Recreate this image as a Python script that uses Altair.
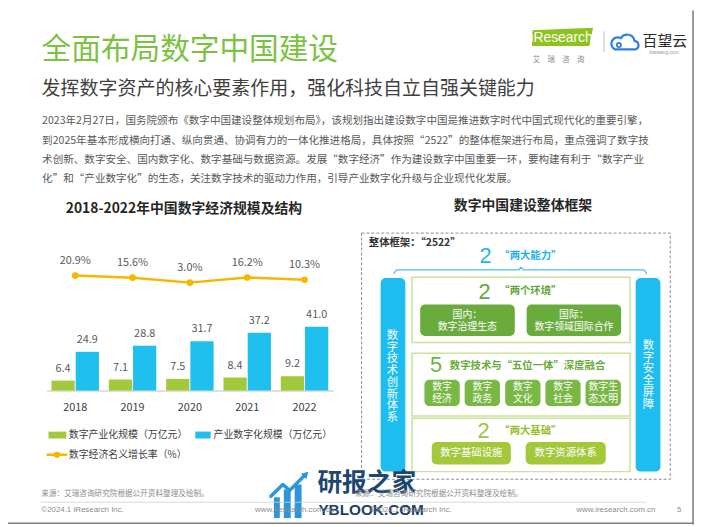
import altair as alt
import pandas as pd

# ---------------- data ----------------
years = ["2018", "2019", "2020", "2021", "2022"]
digital_industrialization = [6.4, 7.1, 7.5, 8.4, 9.2]        # 数字产业化规模（万亿元）
industrial_digitalization = [24.9, 28.8, 31.7, 37.2, 41.0]    # 产业数字化规模（万亿元）
growth_rate = [20.9, 15.6, 3.0, 16.2, 10.3]                  # 数字经济名义增长率（%）
series_names = ["数字产业化规模（万亿元）", "产业数字化规模（万亿元）"]
growth_name = "数字经济名义增长率（%）"

page_title = "全面布局数字中国建设"
page_subtitle = "发挥数字资产的核心要素作用，强化科技自立自强关键能力"
paragraph = [
    "2023年2月27日，国务院颁布《数字中国建设整体规划布局》，该规划指出建设数字中国是推进数字时代中国式现代化的重要引擎，",
    "到2025年基本形成横向打通、纵向贯通、协调有力的一体化推进格局，具体按照“2522”的整体框架进行布局，重点强调了数字技",
    "术创新、数字安全、国内数字化、数字基础与数据资源。发展“数字经济”作为建设数字中国重要一环，要构建有利于“数字产业",
    "化”和“产业数字化”的生态，关注数字技术的驱动力作用，引导产业数字化升级与企业现代化发展。",
]
chart_title = "2018-2022年中国数字经济规模及结构"
framework_title = "数字中国建设整体框架"
five_items = ["数字\n经济", "数字\n政务", "数字\n文化", "数字\n社会", "数字生\n态文明"]
source_text = "来源：艾瑞咨询研究院根据公开资料整理及绘制。"

# ---------------- styles ----------------
CJK = "Noto Sans CJK SC"
LAT = "Liberation Sans"
GREEN = "#a2c83b"
BLUE = "#1fbfee"
ORANGE = "#f7b600"
TXT = "#595959"

PX = alt.Scale(domain=[8, 702], range=[0, 694], nice=False, zero=False)
PY = alt.Scale(domain=[8, 527], range=[0, 519], nice=False, zero=False)
X = alt.X("x:Q", scale=PX, axis=None)
Y = alt.Y("y:Q", scale=PY, axis=None)


def text_layers(rows):
    df = pd.DataFrame(rows, columns=["text", "x", "y", "size", "color", "weight", "align", "font", "lh"])
    layers = []
    for (w, a, f, lh), g in df.groupby(["weight", "align", "font", "lh"]):
        mk = dict(align=a, baseline="middle", fontWeight=w, font=f)
        if lh:
            mk.update(lineBreak="\n", lineHeight=float(lh))
        layers.append(
            alt.Chart(g.reset_index(drop=True)).mark_text(**mk).encode(
                x=X, y=Y, text="text:N",
                size=alt.Size("size:Q", scale=None),
                color=alt.Color("color:N", scale=None),
            )
        )
    return layers


def rect_df(rows):
    return pd.DataFrame(rows, columns=["x", "y", "x2", "y2", "color"])


# ---------------- layout tables (y of multi-line text = first line) ----------------
texts = [
    (page_title, 42, 48, 30, "#7cc242", "normal", "left", CJK, 0),
    (page_subtitle, 42, 87, 19.2, "#3f3f3f", "normal", "left", CJK, 0),
    ("iResearch", 568, 35.5, 14, "#ffffff", "normal", "center", LAT, 0),
    ("艾　瑞　咨　询", 565, 57.5, 7.5, "#8c8c8c", "normal", "center", CJK, 0),
    ("百望云", 650, 38.5, 15, "#2b2b2b", "normal", "left", CJK, 0),
    ("baiwang.com", 672, 50, 5, "#9a9a9a", "normal", "center", LAT, 0),
    (chart_title, 186, 208, 14, "#262626", "bold", "center", CJK, 0),
    (framework_title, 529, 205, 14, "#262626", "bold", "center", CJK, 0),
    (series_names[0], 69.5, 437, 10, "#404040", "normal", "left", CJK, 0),
    (series_names[1], 216, 437, 10, "#404040", "normal", "left", CJK, 0),
    (growth_name, 69.5, 457, 10, "#404040", "normal", "left", CJK, 0),
    ("整体框架：“2522”", 373, 243, 10.5, "#333333", "bold", "left", CJK, 0),
    ("2", 491, 255.5, 22, "#1fb8ec", "normal", "center", LAT, 0),
    ("“两大能力”", 505, 256, 10.5, "#1cb2e8", "bold", "left", CJK, 0),
    ("2", 490, 292, 22, "#62a83a", "normal", "center", LAT, 0),
    ("“两个环境”", 505, 291, 10.5, "#5ea536", "bold", "left", CJK, 0),
    ("国内：\n数字治理生态", 472.7, 315.8, 10, "#ffffff", "normal", "center", CJK, 11.5),
    ("国际：\n数字领域国际合作", 580.5, 315.8, 10, "#ffffff", "normal", "center", CJK, 11.5),
    ("5", 441, 366, 22, "#6fb43c", "normal", "center", LAT, 0),
    ("数字技术与“五位一体”深度融合", 455, 367, 10.5, "#67ab39", "bold", "left", CJK, 0),
    ("2", 489, 433, 22, "#9cc43a", "normal", "center", LAT, 0),
    ("“两大基础”", 505, 433, 10.5, "#93bf2c", "bold", "left", CJK, 0),
    ("数字基础设施", 476.7, 455.5, 10.5, "#ffffff", "normal", "center", CJK, 0),
    ("数字资源体系", 572.2, 455.5, 10.5, "#ffffff", "normal", "center", CJK, 0),
    ("\n".join("数字技术创新体系"), 397, 336.7, 11.5, "#ffffff", "normal", "center", CJK, 11.9),
    ("\n".join("数字安全屏障"), 656, 346.7, 11.5, "#ffffff", "normal", "center", CJK, 12),
    (source_text, 41.7, 497, 7.7, "#8c8c8c", "normal", "left", CJK, 0),
    (source_text, 359, 497, 7.7, "#8c8c8c", "normal", "left", CJK, 0),
    ("©2024.1 iResearch Inc.", 41.7, 512.5, 8, "#8c8c8c", "normal", "left", LAT, 0),
    ("www.iresearch.com.cn", 258, 512.5, 8, "#8c8c8c", "normal", "left", LAT, 0),
    ("©2024.1 iResearch Inc.", 457, 512.5, 8, "#8c8c8c", "normal", "right", LAT, 0),
    ("www.iresearch.com.cn", 583, 512.5, 8, "#8c8c8c", "normal", "left", LAT, 0),
    ("5", 687, 512.5, 8, "#8c8c8c", "normal", "center", LAT, 0),
    ("研报之家", 321, 486, 25, "#1d4670", "bold", "left", CJK, 0),
    ("YBLOOK.COM", 322, 512.5, 15.5, "#1b3f66", "bold", "left", LAT, 0),
]
text_layers_list = text_layers(texts)
para_rows = [(line, 42.5, y, 10.7, TXT, "normal", "left", CJK, 0)
             for line, y in zip(paragraph, [119.7, 139.2, 158.7, 178.2])]
text_layers_list += text_layers(para_rows)

five_x = [(429.3, 465), (470, 505.7), (511, 546.7), (551.7, 587.3), (592.3, 628)]
five_rows = [(lab, (a + b) / 2, 388.8, 10, "#ffffff", "normal", "center", CJK, 11.5)
             for (a, b), lab in zip(five_x, five_items)]
text_layers_list += text_layers(five_rows)

rounded = rect_df([
    (385, 278, 410, 474, "#1dbdef"),
    (643, 278, 668, 474, "#1dbdef"),
    (425, 305, 520.7, 336.7, "#69ac3c"),
    (532.7, 305, 628.3, 336.7, "#69ac3c"),
    (436.7, 444, 516.7, 466.7, "#a3c83a"),
    (531.7, 444, 612.7, 466.7, "#a3c83a"),
] + [(a, 381, b, 407.7, "#78b843") for a, b in five_x])

plain = rect_df([
    (49, 433.5, 67, 440.5, GREEN),
    (197.5, 433.5, 213, 440.5, BLUE),
    (277, 500, 283, 521, "#2d95dc"),
    (287, 492, 294, 521, "#2d95dc"),
    (298, 487, 305, 521, "#2d95dc"),
])

outlines = rect_df([
    (416.7, 277.3, 637.3, 343.3, "#cbe29c"),
    (416.7, 354.3, 637.3, 417.7, "#cbe29c"),
    (416.7, 420, 637.3, 474, "#cbe29c"),
])
dashed = rect_df([(365.7, 232.7, 678, 481.7, "#8c8c8c")])

line_rows = []
def add_line(name, pts, color, w):
    for i, (x, y) in enumerate(pts):
        line_rows.append((name, i, x, y, color, w))

add_line("brace", [(398.3, 273.5), (401, 270), (524.5, 270), (527, 267.3), (529.5, 270),
                   (651.5, 270), (654, 273.5)], "#4cc2ee", 1.3)
add_line("legend", [(48, 457), (67, 457)], ORANGE, 2.5)
add_line("footer", [(41.7, 505), (653, 505)], "#d0d0d0", 0.8)
add_line("divider", [(611, 29), (611, 49)], "#bfbfbf", 1)
add_line("frame_r", [(701, 8), (701, 527)], "#808080", 1.6)
add_line("frame_b", [(8, 526.2), (702, 526.2)], "#808080", 1.6)
add_line("arrow", [(274, 499), (286, 487), (293, 493), (308, 478)], "#2d95dc", 3.5)
lines_df = pd.DataFrame(line_rows, columns=["id", "i", "x", "y", "color", "w"])

decor_layers = [
    alt.Chart(dashed).mark_rect(fillOpacity=0, strokeDash=[3, 2], strokeWidth=1).encode(
        x=X, x2="x2:Q", y=Y, y2="y2:Q", stroke=alt.Stroke("color:N", scale=None)),
    alt.Chart(outlines).mark_rect(fillOpacity=0, strokeWidth=1.5).encode(
        x=X, x2="x2:Q", y=Y, y2="y2:Q", stroke=alt.Stroke("color:N", scale=None)),
    alt.Chart(rounded).mark_rect(cornerRadius=5).encode(
        x=X, x2="x2:Q", y=Y, y2="y2:Q", fill=alt.Fill("color:N", scale=None)),
    alt.Chart(plain).mark_rect().encode(
        x=X, x2="x2:Q", y=Y, y2="y2:Q", fill=alt.Fill("color:N", scale=None)),
    alt.Chart(lines_df).mark_line(strokeCap="round", strokeJoin="round").encode(
        x=X, y=Y, detail="id:N", order="i:Q",
        color=alt.Color("color:N", scale=None),
        strokeWidth=alt.StrokeWidth("w:Q", scale=None)),
    alt.Chart(pd.DataFrame({"x": [57.5], "y": [457]})).mark_point(
        filled=True, size=40, color=ORANGE, opacity=1).encode(x=X, y=Y),
    alt.Chart(pd.DataFrame({"x": [569], "y": [34.5]})).mark_point(
        shape="M -0.98 -0.22 L 0.98 -0.3 L 0.86 0.28 L -0.98 0.28 Z",
        filled=True, size=3969, color="#8dc21f", opacity=1).encode(x=X, y=Y),
    alt.Chart(pd.DataFrame({"x": [632.5], "y": [38.5]})).mark_point(
        shape="M -0.72 0.55 L 0.72 0.55 A 0.3 0.3 0 0 0 0.62 -0.02 A 0.5 0.5 0 0 0 -0.3 -0.2 A 0.38 0.38 0 0 0 -0.72 0.55 Z",
        filled=False, strokeWidth=2.2, size=900, color="#2f80e0", opacity=1).encode(x=X, y=Y),
    alt.Chart(pd.DataFrame({"x": [626], "y": [42.5]})).mark_point(
        filled=False, strokeWidth=1.8, size=18, color="#2f80e0", opacity=1).encode(x=X, y=Y),
    alt.Chart(pd.DataFrame({"x": [309.5], "y": [476.5]})).mark_point(
        shape="triangle-up", angle=45, filled=True, size=60, color="#2d95dc", opacity=1).encode(x=X, y=Y),
] + text_layers_list
decor = alt.layer(*decor_layers)

# ---------------- bar chart ----------------
bar_df = pd.DataFrame({
    "year": years * 2,
    "series": [series_names[0]] * len(years) + [series_names[1]] * len(years),
    "value": digital_industrialization + industrial_digitalization,
    "color": [GREEN] * len(years) + [BLUE] * len(years),
})
bar_x = alt.X("year:N", sort=years,
              scale=alt.Scale(type="band", range=[39, 329], paddingInner=0.172, paddingOuter=0.086),
              axis=alt.Axis(orient="bottom", offset=-135, title=None, ticks=False, labelAngle=0,
                            labelPadding=11, labelFontSize=11, labelColor="#404040", labelFont=CJK,
                            domainColor="#d6d6d6", domainWidth=1.5, grid=False))
bar_off = alt.XOffset("series:N", sort=series_names, scale=alt.Scale(paddingInner=0.04, paddingOuter=0))
bar_y = alt.Y("value:Q", scale=alt.Scale(domain=[0, 50], range=[384, 305.25], nice=False), axis=None)
bars = alt.Chart(bar_df).mark_bar().encode(
    x=bar_x, xOffset=bar_off, y=bar_y, color=alt.Color("color:N", scale=None))
bar_text = alt.Chart(bar_df).mark_text(dy=-12, fontSize=11, color=TXT, font=CJK).encode(
    x=bar_x, xOffset=bar_off, y=bar_y, text=alt.Text("value:Q", format=".1f"))
bars_group = alt.layer(bars, bar_text)

# ---------------- growth line ----------------
g_df = pd.DataFrame({"year": years, "growth": growth_rate})
g_x = alt.X("year:N", sort=years, scale=alt.Scale(type="point", range=[39, 329], padding=0.5), axis=None)
g_y = alt.Y("growth:Q", scale=alt.Scale(domain=[0, 100], range=[276, 236.3], nice=False), axis=None)
g_base = alt.Chart(g_df).encode(x=g_x, y=g_y)
g_line = g_base.mark_line(color=ORANGE, strokeWidth=2.5)
g_pts = g_base.mark_point(filled=True, size=45, color=ORANGE, opacity=1)
g_lbl = g_base.mark_text(dy=-15, fontSize=11, color=TXT, font=CJK).transform_calculate(
    label="format(datum.growth, '.1f') + '%'").encode(text="label:N")
growth_group = alt.layer(g_line, g_pts, g_lbl)

chart = alt.layer(decor, bars_group, growth_group).resolve_scale(
    x="independent", y="independent"
).properties(
    width=694, height=519, padding=0,
    autosize=alt.AutoSizeParams(type="none"), background="white"
).configure_view(stroke=None)

chart.save("out.html", embed_options={"renderer": "svg", "actions": False})
